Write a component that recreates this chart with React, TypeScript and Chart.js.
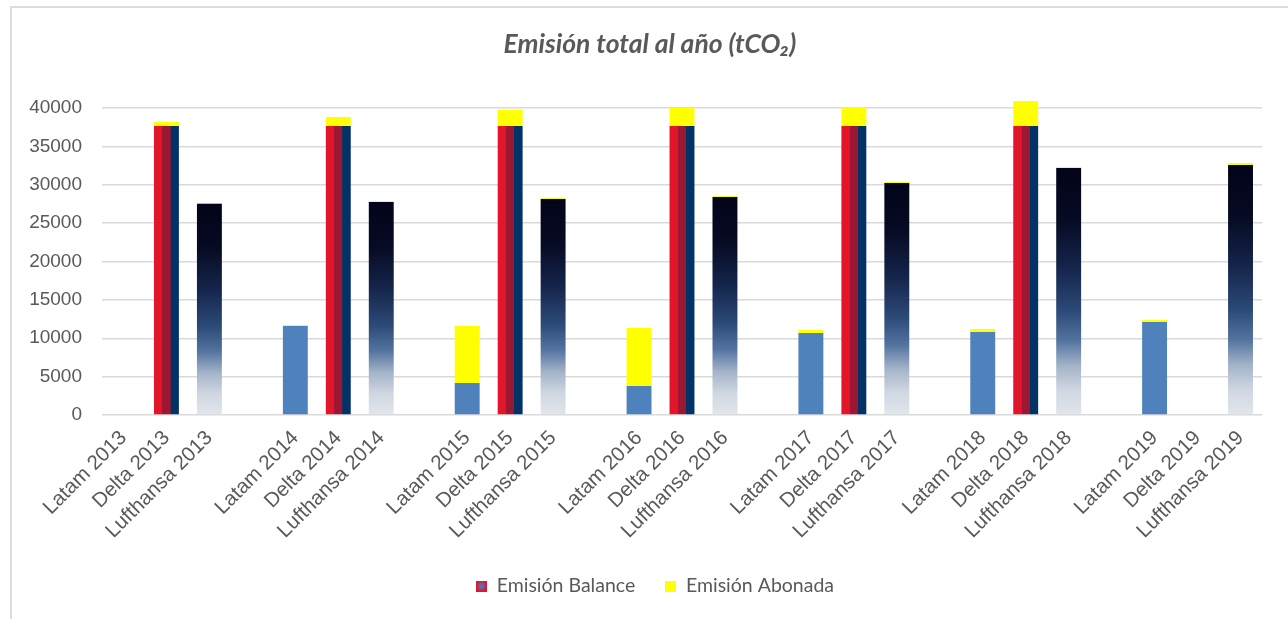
import React, { useEffect, useRef } from 'react';
import { Chart, registerables } from 'chart.js';

Chart.register(...registerables);

// ---- Data ----
const years = ['2013', '2014', '2015', '2016', '2017', '2018', '2019'];
const airlines = ['Latam', 'Delta', 'Lufthansa'];

const latamBalance = [0, 11600, 4170, 3780, 10680, 10810, 12120];
const latamAbonada = [0, 130, 7430, 7560, 390, 390, 260];

const deltaBalance = [37650, 37650, 37650, 37650, 37650, 37650, 0];
const deltaAbonada = [520, 1180, 2130, 2390, 2480, 3260, 0];

const lufthansaBalance = [27530, 27750, 28140, 28400, 30230, 32180, 32570];
const lufthansaAbonada = [80, 110, 130, 130, 130, 120, 260];

const yTicksMax = 40000;
const yTicksStep = 5000;

const balanceLabel = 'Emisión Balance';
const abonadaLabel = 'Emisión Abonada';
const chartTitle = 'Emisión total al año (tCO₂)';

// ---- Build the category table (gap category between years) ----
const balanceByAirline = [latamBalance, deltaBalance, lufthansaBalance];
const abonadaByAirline = [latamAbonada, deltaAbonada, lufthansaAbonada];

const labels: string[] = [];
const balance: (number | null)[] = [];
const abonada: (number | null)[] = [];
const kinds: number[] = [];
years.forEach((y, yi) => {
  airlines.forEach((a, ai) => {
    labels.push(`${a} ${y}`);
    balance.push(balanceByAirline[ai][yi]);
    abonada.push(abonadaByAirline[ai][yi]);
    kinds.push(ai);
  });
  if (yi < years.length - 1) {
    labels.push('');
    balance.push(null);
    abonada.push(null);
    kinds.push(-1);
  }
});

const BAR_PCT = 0.58;
const LATAM_BLUE = '#4F81BD';
const YELLOW = '#FFFF00';
const GRID = '#d9d9d9';
const TEXT = '#595959';

function balanceColor(c: any) {
  if (c.type !== 'data') return LATAM_BLUE;
  const chart = c.chart;
  const i = c.dataIndex;
  const k = kinds[i];
  if (k === 0) return LATAM_BLUE;
  const xs = chart.scales?.x;
  const ys = chart.scales?.y;
  const ctx = chart.ctx;
  if (!xs || !ys) return k === 1 ? '#9B1830' : '#1f3660';
  if (k === 1) {
    const cx = xs.getPixelForValue(i);
    const w = (xs.width / labels.length) * BAR_PCT;
    if (!isFinite(cx) || !isFinite(w) || w <= 0) return '#9B1830';
    const g = ctx.createLinearGradient(cx - w / 2, 0, cx + w / 2, 0);
    g.addColorStop(0, '#E3152B');
    g.addColorStop(0.33, '#E3152B');
    g.addColorStop(0.34, '#9C1732');
    g.addColorStop(0.66, '#9C1732');
    g.addColorStop(0.67, '#033266');
    g.addColorStop(1, '#033266');
    return g;
  }
  const v = c.raw;
  const top = ys.getPixelForValue(v);
  const bot = ys.getPixelForValue(0);
  if (!isFinite(top) || !isFinite(bot) || bot - top < 1) return '#1f3660';
  const g = ctx.createLinearGradient(0, top, 0, bot);
  g.addColorStop(0, '#03041a');
  g.addColorStop(0.2, '#060a22');
  g.addColorStop(0.4, '#14244a');
  g.addColorStop(0.58, '#2c4a78');
  g.addColorStop(0.7, '#5474a0');
  g.addColorStop(0.8, '#a3b3c8');
  g.addColorStop(0.9, '#cfd7e1');
  g.addColorStop(1, '#e2e6ec');
  return g;
}

function makeSwatch(kind: number) {
  const cv = document.createElement('canvas');
  cv.width = 11;
  cv.height = 11;
  const x = cv.getContext('2d')!;
  if (kind === 0) {
    x.fillStyle = '#E3152B';
    x.fillRect(0, 0, 11, 11);
    const g = x.createRadialGradient(5.5, 5.5, 0, 5.5, 5.5, 5.5);
    g.addColorStop(0, 'rgba(79,129,189,1)');
    g.addColorStop(0.6, 'rgba(110,90,160,0.8)');
    g.addColorStop(1, 'rgba(227,21,43,0)');
    x.fillStyle = g;
    x.fillRect(0, 0, 11, 11);
  } else {
    x.fillStyle = YELLOW;
    x.fillRect(0, 0, 11, 11);
  }
  return cv;
}

const LEGEND_SHIFT = 24;
const TITLE_SHIFT = 19;

const boxShift = {
  id: 'boxShift',
  afterLayout(chart: any) {
    if (chart.legend) {
      chart.legend.left += LEGEND_SHIFT;
      chart.legend.right += LEGEND_SHIFT;
    }
    if (chart.titleBlock) {
      chart.titleBlock.left += TITLE_SHIFT;
      chart.titleBlock.right += TITLE_SHIFT;
    }
  },
};

export default function App() {
  const ref = useRef<HTMLCanvasElement | null>(null);

  useEffect(() => {
    if (!ref.current) return;
    const sw0 = makeSwatch(0);
    const sw1 = makeSwatch(1);
    const chart = new Chart(ref.current, {
      type: 'bar',
      data: {
        labels,
        datasets: [
          {
            label: balanceLabel,
            data: balance,
            backgroundColor: balanceColor as any,
            borderWidth: 0,
            barPercentage: BAR_PCT,
            categoryPercentage: 1,
            clip: false as any,
          },
          {
            label: abonadaLabel,
            data: abonada,
            backgroundColor: YELLOW,
            borderWidth: 0,
            barPercentage: BAR_PCT,
            categoryPercentage: 1,
            clip: false as any,
          },
        ],
      },
      plugins: [boxShift],
      options: {
        responsive: false,
        animation: false,
        layout: { padding: { top: 20, right: 26, bottom: 13.25, left: 0 } },
        plugins: {
          title: {
            display: true,
            text: chartTitle,
            color: TEXT,
            font: { family: 'Lato', size: 26.5, weight: 'bold', style: 'italic' },
            padding: { top: 9, bottom: 47.2 },
          },
          legend: {
            position: 'bottom',
            labels: {
              usePointStyle: true,
              boxWidth: 11,
              boxHeight: 11,
              padding: 30,
              color: TEXT,
              font: { family: 'Lato', size: 19.5 },
              generateLabels: () => [
                {
                  text: balanceLabel,
                  pointStyle: sw0 as any,
                  fillStyle: '#E3152B',
                  strokeStyle: 'transparent',
                  lineWidth: 0,
                  hidden: false,
                  datasetIndex: 0,
                  fontColor: TEXT,
                },
                {
                  text: abonadaLabel,
                  pointStyle: sw1 as any,
                  fillStyle: YELLOW,
                  strokeStyle: 'transparent',
                  lineWidth: 0,
                  hidden: false,
                  datasetIndex: 1,
                  fontColor: TEXT,
                },
              ],
            },
          },
          tooltip: { enabled: false },
        },
        scales: {
          x: {
            stacked: true,
            grid: { display: false },
            border: { display: false },
            ticks: {
              autoSkip: false,
              minRotation: 45,
              maxRotation: 45,
              padding: 3,
              color: TEXT,
              font: { family: 'Liberation Sans', size: 20.5 },
            },
            afterFit: (s: any) => {
              s.height = 131.25;
            },
          },
          y: {
            stacked: true,
            min: 0,
            max: yTicksMax,
            grid: { color: GRID, lineWidth: 1.5, drawTicks: false },
            border: { display: false },
            ticks: {
              stepSize: yTicksStep,
              padding: 20,
              color: TEXT,
              font: { family: 'Liberation Sans', size: 19 },
              callback: (v: any) => String(v),
            },
            afterFit: (s: any) => {
              s.width = 102;
            },
          },
        },
      },
    });
    return () => chart.destroy();
  }, []);

  return (
    <div style={{ position: 'fixed', left: 0, top: 0, width: 1288, height: 619, background: '#ffffff', overflow: 'hidden' }}>
      <div
        style={{
          position: 'absolute',
          left: 10,
          top: 6,
          width: 1400,
          height: 800,
          borderLeft: '2px solid #dcdcdc',
          borderTop: '2px solid #dcdcdc',
        }}
      />
      <canvas ref={ref} width={1288} height={619} style={{ position: 'absolute', left: 0, top: 0 }} />
    </div>
  );
}
